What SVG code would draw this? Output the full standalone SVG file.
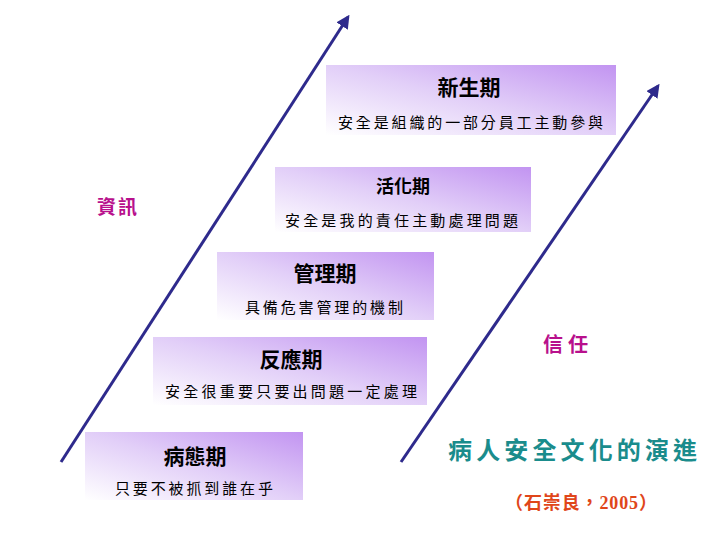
<svg xmlns="http://www.w3.org/2000/svg" width="720" height="540" viewBox="0 0 720 540">
<defs>
<linearGradient id="g" x1="0" y1="1" x2="1" y2="0">
<stop offset="0" stop-color="#ffffff"/>
<stop offset="0.5" stop-color="#e2cff8"/>
<stop offset="1" stop-color="#c294f1"/>
</linearGradient>
<marker id="ah" viewBox="0 0 10 10" refX="8" refY="5" markerWidth="4.5" markerHeight="4.5" orient="auto" markerUnits="strokeWidth">
<path d="M0,0 L10,5 L0,10 z" fill="#2e2a8c"/>
</marker>
<style>
.box{fill:url(#g);stroke:none}
.t{font-family:"Noto Sans CJK TC","Liberation Serif",serif;font-weight:bold;fill:#000;text-anchor:middle}
.s{font-family:"Noto Sans CJK TC","Liberation Serif",serif;fill:#000}
.conn{stroke:#2e2a8c;stroke-width:3;fill:none}
.m{font-family:"Noto Sans CJK TC",sans-serif;font-weight:bold;fill:#b8108c}
</style>
</defs>
<rect width="720" height="540" fill="#ffffff"/>
<g id="connectors">
<line class="conn" x1="61" y1="462" x2="348" y2="17" marker-end="url(#ah)"/>
<line class="conn" x1="401" y1="462" x2="658" y2="86" marker-end="url(#ah)"/>
</g>
<g id="n1">
<rect class="box" x="326" y="65" width="290" height="70"/>
<text class="t" x="469" y="95" font-size="21">新生期</text>
<text class="s" x="338" y="128" font-size="15" textLength="265" lengthAdjust="spacing">安全是組織的一部分員工主動參與</text>
</g>
<g id="n2">
<rect class="box" x="275" y="167" width="256" height="65"/>
<text class="t" x="403" y="193" font-size="18">活化期</text>
<text class="s" x="285" y="226" font-size="15" textLength="233" lengthAdjust="spacing">安全是我的責任主動處理問題</text>
</g>
<g id="n3">
<rect class="box" x="217" y="252" width="217" height="68"/>
<text class="t" x="325" y="281" font-size="21">管理期</text>
<text class="s" x="245" y="313" font-size="15" textLength="158" lengthAdjust="spacing">具備危害管理的機制</text>
</g>
<g id="n4">
<rect class="box" x="153" y="337" width="274" height="68"/>
<text class="t" x="291" y="367" font-size="21">反應期</text>
<text class="s" x="165" y="397" font-size="15" textLength="252" lengthAdjust="spacing">安全很重要只要出問題一定處理</text>
</g>
<g id="n5">
<rect class="box" x="85" y="432" width="218" height="68"/>
<text class="t" x="195" y="464" font-size="21">病態期</text>
<text class="s" x="115" y="494" font-size="15" textLength="158" lengthAdjust="spacing">只要不被抓到誰在乎</text>
</g>
<g id="labels">
<text class="m" x="97" y="214" font-size="19" textLength="40" lengthAdjust="spacing">資訊</text>
<text class="m" x="543" y="352" font-size="20" textLength="45" lengthAdjust="spacing">信任</text>
<text x="448" y="459" font-family="Noto Sans CJK TC, sans-serif" font-weight="bold" font-size="24" fill="#1a8c8c" textLength="249" lengthAdjust="spacing">病人安全文化的演進</text>
<text x="505" y="509" font-family="Liberation Serif, Noto Sans CJK TC, serif" font-weight="bold" font-size="18" fill="#e0461a" textLength="152" lengthAdjust="spacing">（石崇良，2005）</text>
</g>
</svg>
